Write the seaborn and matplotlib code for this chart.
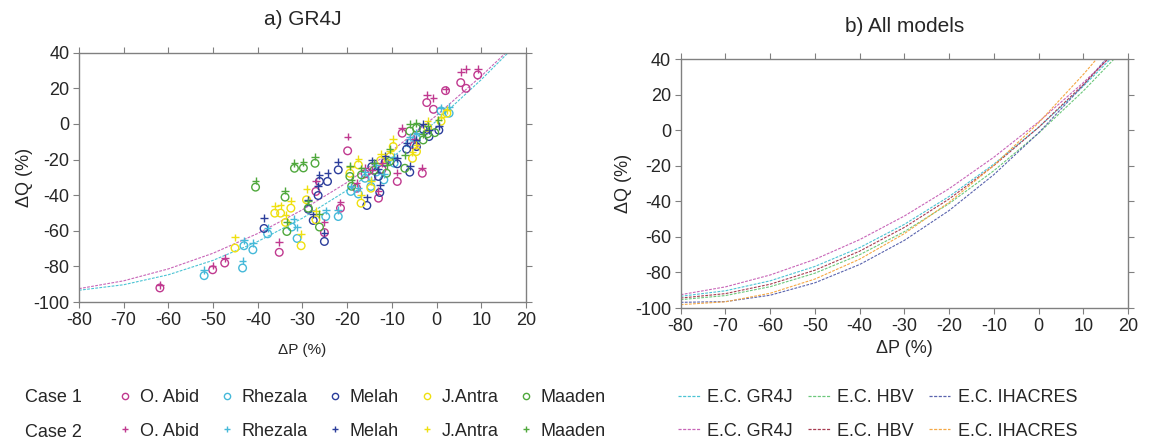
import matplotlib.pyplot as plt
from matplotlib.lines import Line2D
import numpy as np
import pandas as pd
import seaborn as sns

# stations and colours
stations = ["O. Abid", "Rhezala", "Melah", "J.Antra", "Maaden"]
station_colors = ["#c0398f", "#45b9d9", "#2b3d9b", "#efe010", "#4fa83c"]

# panel a points, case 1 (o) and case 2 (+)
abid_x1 = [-61.9, -50.1, -47.4, -35.2, -27.0, -25.1, -21.5, -19.9, -17.9, -13.0, -14.5, -12.2,
           -8.8, -3.2, -7.7, -2.2, -0.7, 2.0, 5.4, 6.6, 9.2, -16.0, -5.0]
abid_y1 = [-92.1, -81.9, -78.1, -72.1, -37.9, -61.0, -47.3, -15.1, -36.1, -41.7, -30.0, -25.5,
           -32.3, -27.7, -5.2, 12.0, 8.2, 18.7, 23.2, 20.0, 27.5, -28.0, -12.0]
abid_x2 = [-61.9, -50.1, -47.4, -35.2, -27.0, -25.1, -21.5, -19.9, -17.9, -13.0, -14.5, -12.2,
           -8.8, -3.2, -7.7, -2.2, -0.7, 2.0, 5.4, 6.6, 9.2, -16.0, -5.0]
abid_y2 = [-90.3, -79.6, -75.3, -66.4, -32.3, -55.3, -44.1, -7.1, -33.0, -37.5, -26.0, -22.0,
           -27.3, -24.5, -2.4, 16.3, 14.4, 19.4, 29.0, 30.8, 30.7, -24.5, -8.5]

rhez_x1 = [-52.0, -43.4, -43.1, -41.1, -37.8, -32.4, -31.2, -24.8, -22.0, -19.2, -17.5, -14.7,
           -11.8, -6.0, 1.0, 2.8, -13.5, -16.0, -4.5, -9.5]
rhez_y1 = [-85.2, -80.9, -68.4, -70.7, -61.7, -57.9, -64.3, -52.0, -52.0, -37.9, -39.3, -35.1,
           -31.4, -10.8, 7.3, 6.0, -27.0, -30.5, -8.0, -22.0]
rhez_x2 = [-52.0, -43.4, -43.1, -41.1, -37.8, -32.0, -31.2, -24.8, -22.0, -19.2, -17.5, -14.7,
           -11.8, -6.0, 1.0, 2.8, -13.5, -16.0, -4.5, -9.5]
rhez_y2 = [-81.9, -76.8, -65.4, -66.9, -58.5, -53.3, -58.1, -48.6, -48.2, -35.1, -36.0, -31.5,
           -28.0, -7.5, 9.0, 9.7, -23.0, -27.0, -5.0, -18.5]

melah_x1 = [-38.6, -26.5, -26.2, -24.4, -27.6, -25.1, -22.0, -15.6, -12.7, -8.8, -6.0, -6.7,
            -1.7, -4.5, -13.0, -28.7, -14.5, -11.5, -3.0, 0.5]
melah_y1 = [-58.7, -40.2, -32.3, -32.3, -54.2, -66.0, -25.8, -45.8, -38.5, -22.4, -27.1, -14.2,
            -7.1, -12.7, -29.5, -47.9, -24.0, -21.5, -3.0, -3.5]
melah_x2 = [-38.6, -26.5, -26.2, -24.4, -27.6, -25.1, -22.0, -15.6, -12.7, -8.8, -6.0, -6.7,
            -1.7, -4.5, -13.0, -28.7, -14.5, -11.5, -3.0, 0.5]
melah_y2 = [-52.9, -34.8, -28.6, -27.7, -50.5, -61.0, -21.1, -41.3, -34.2, -19.0, -23.6, -10.5,
            -3.5, -9.0, -25.5, -42.6, -20.5, -18.0, 0.0, -1.0]

antra_x1 = [-45.1, -36.2, -34.9, -33.8, -32.6, -30.3, -29.1, -27.0, -19.4, -16.9, -14.7, -10.4,
            -9.7, -5.4, -4.5, 2.3, -17.5, -12.5, -2.0, 1.0]
antra_y1 = [-69.7, -50.1, -50.1, -55.3, -47.3, -68.4, -42.6, -53.8, -27.7, -44.5, -36.1, -18.3,
            -12.7, -19.3, -15.5, 6.0, -23.0, -20.5, -2.0, 1.5]
antra_x2 = [-45.1, -36.2, -34.9, -33.8, -32.6, -30.3, -29.1, -27.0, -19.4, -16.9, -14.7, -10.4,
            -9.7, -5.4, -4.5, 2.3, -17.5, -12.5, -2.0, 1.0]
antra_y2 = [-63.7, -46.0, -45.8, -51.0, -43.0, -61.9, -36.4, -49.0, -24.0, -39.8, -32.0, -15.0,
            -8.6, -16.0, -12.0, 7.9, -19.5, -17.0, 1.5, 4.0]

maaden_x1 = [-40.5, -31.8, -29.8, -27.2, -33.9, -33.5, -28.7, -26.2, -19.4, -16.8, -11.2, -7.1,
             -3.0, -0.4, -4.5, -14.0, -19.0, -10.5, -2.0, -6.0]
maaden_y1 = [-35.5, -24.9, -24.7, -22.1, -41.1, -60.4, -47.3, -57.9, -29.5, -28.6, -27.7, -24.9,
             -9.0, -4.9, -2.4, -26.0, -35.0, -21.0, -5.5, -4.0]
maaden_x2 = [-40.5, -31.8, -29.8, -27.2, -33.9, -33.5, -28.7, -26.2, -19.4, -16.8, -11.2, -7.1,
             -3.0, 0.4, -4.5, -14.0, -19.0, -10.5, -2.0, -6.0]
maaden_y2 = [-31.8, -22.1, -21.5, -18.3, -37.4, -54.8, -43.5, -50.5, -23.6, -25.0, -23.0, -17.4,
             -5.5, 2.2, 0.5, -22.0, -31.5, -14.0, -1.0, 0.0]

# elasticity curves (read at every 10 % of dP, last point where they leave the top)
ec_names = ["E.C. GR4J", "E.C. HBV", "E.C. IHACRES"]
ec1_colors = ["#4cc4d4", "#6cc87c", "#5a64ae"]
ec2_colors = ["#c866b8", "#a83c52", "#f5a845"]

gr4j1_x = [-80, -70, -60, -50, -40, -30, -20, -10, 0, 10, 16.0]
gr4j1_y = [-93.4, -90.3, -84.7, -76.6, -66.0, -52.9, -37.2, -19.0, 1.7, 24.9, 40]
hbv1_x = [-80, -70, -60, -50, -40, -30, -20, -10, 0, 10, 16.8]
hbv1_y = [-95.3, -93.0, -88.0, -80.4, -70.0, -57.0, -41.2, -22.7, -1.6, 22.2, 40]
ihacres1_x = [-80, -70, -60, -50, -40, -30, -20, -10, 0, 10, 15.0]
ihacres1_y = [-96.8, -96.4, -92.8, -85.8, -75.5, -61.9, -45.1, -24.9, -1.4, 25.4, 40]
gr4j2_x = [-80, -70, -60, -50, -40, -30, -20, -10, 0, 10, 15.5]
gr4j2_y = [-92.5, -88.1, -81.4, -72.6, -61.5, -48.2, -32.8, -15.1, 4.8, 26.9, 40]
hbv2_x = [-80, -70, -60, -50, -40, -30, -20, -10, 0, 10, 15.4]
hbv2_y = [-94.4, -91.9, -86.6, -78.7, -68.0, -54.6, -38.6, -19.8, 1.7, 25.8, 40]
ihacres2_x = [-80, -70, -60, -50, -40, -30, -20, -10, 0, 10, 12.9]
ihacres2_y = [-98.1, -96.5, -91.7, -83.7, -72.5, -58.1, -40.5, -19.7, 4.3, 31.5, 40]

x_ticks = list(range(-80, 21, 10))
y_ticks = list(range(-100, 41, 20))

sns.set_style("white")
plt.rcParams['font.family'] = ['Liberation Sans', 'DejaVu Sans']
plt.rcParams['axes.unicode_minus'] = False

pts1 = [(abid_x1, abid_y1), (rhez_x1, rhez_y1), (melah_x1, melah_y1), (antra_x1, antra_y1), (maaden_x1, maaden_y1)]
pts2 = [(abid_x2, abid_y2), (rhez_x2, rhez_y2), (melah_x2, melah_y2), (antra_x2, antra_y2), (maaden_x2, maaden_y2)]
rows = []
for case, pts in [("Case 1", pts1), ("Case 2", pts2)]:
    for st, (xs, ys) in zip(stations, pts):
        for x, y in zip(xs, ys):
            rows.append({'dP': x, 'dQ': y, 'station': st, 'case': case})
df = pd.DataFrame(rows)
palette = dict(zip(stations, station_colors))

curves1 = [(gr4j1_x, gr4j1_y), (hbv1_x, hbv1_y), (ihacres1_x, ihacres1_y)]
curves2 = [(gr4j2_x, gr4j2_y), (hbv2_x, hbv2_y), (ihacres2_x, ihacres2_y)]
dash = (0, (2.5, 1.2))

fig = plt.figure(figsize=(11.53, 4.44), dpi=100)
ax1 = fig.add_axes([0.0685, 0.3198, 0.3877, 0.5615])
ax2 = fig.add_axes([0.5904, 0.3063, 0.3880, 0.5601])

# panel a
for case, marker in [("Case 1", "o"), ("Case 2", "+")]:
    sub = df[df['case'] == case]
    sns.scatterplot(data=sub, x='dP', y='dQ', hue='station', palette=palette, marker=marker,
                    s=30, linewidth=1.0, legend=False, ax=ax1, zorder=3)
    if marker == "o":
        coll = ax1.collections[-1]
        coll.set_edgecolors(coll.get_facecolors())
        coll.set_facecolors('none')

for (xs, ys), col in [(curves1[0], ec1_colors[0]), (curves2[0], ec2_colors[0])]:
    sns.lineplot(x=xs, y=ys, color=col, linewidth=0.8, linestyle=dash, sort=False, ax=ax1, zorder=2)

# panel b
for (xs, ys), col in list(zip(curves1, ec1_colors)) + list(zip(curves2, ec2_colors)):
    sns.lineplot(x=xs, y=ys, color=col, linewidth=0.8, linestyle=dash, sort=False, ax=ax2)

for ax in (ax1, ax2):
    ax.set_xlim(-80, 20)
    ax.set_ylim(-100, 40)
    ax.set_xticks(x_ticks)
    ax.set_yticks(y_ticks)
    ax.xaxis.set_ticks_position('both')
    ax.yaxis.set_ticks_position('both')
    ax.tick_params(direction='out', length=4, width=0.8, color='#808080',
                   labeltop=False, labelright=False, labelsize=13, pad=3)
    for sp in ax.spines.values():
        sp.set_color('#808080')
        sp.set_linewidth(1.0)
        sp.set_visible(True)

ax1.set_title("a) GR4J", fontsize=15, pad=20)
ax2.set_title("b) All models", fontsize=15, pad=20)
ax1.set_xlabel("\u0394P (%)", fontsize=11, labelpad=10)
ax1.set_ylabel("\u0394Q (%)", fontsize=13, labelpad=0)
ax2.set_xlabel("\u0394P (%)", fontsize=13, labelpad=4)
ax2.set_ylabel("\u0394Q (%)", fontsize=13, labelpad=2)

# legend: stations block and curves block
st_handles, st_labels = [], []
for st, col in zip(stations, station_colors):
    st_handles.append(Line2D([], [], ls='none', marker='o', mfc='none', mec=col, ms=4.5, mew=1.0))
    st_labels.append(st)
    st_handles.append(Line2D([], [], ls='none', marker='+', color=col, ms=5, mew=1.0))
    st_labels.append(st)
ec_handles, ec_labels = [], []
for name, c1, c2 in zip(ec_names, ec1_colors, ec2_colors):
    ec_handles.append(Line2D([], [], color=c1, lw=0.9, ls=dash))
    ec_labels.append(name)
    ec_handles.append(Line2D([], [], color=c2, lw=0.9, ls=dash))
    ec_labels.append(name)

leg_y = (444 - 414.5) / 444
fig.legend(st_handles, st_labels, ncol=5, loc='center left', bbox_to_anchor=(118 / 1153, leg_y),
           frameon=False, fontsize=13, handlelength=0.8, handletextpad=0.4,
           columnspacing=1.15, labelspacing=0.9, borderpad=0, borderaxespad=0)
fig.legend(ec_handles, ec_labels, ncol=3, loc='center left', bbox_to_anchor=(678 / 1153, leg_y),
           frameon=False, fontsize=13, handlelength=1.2, handletextpad=0.4,
           columnspacing=0.85, labelspacing=0.9, borderpad=0, borderaxespad=0)
fig.text(0.022, (444 - 397) / 444, "Case 1", fontsize=13, va='center', ha='left')
fig.text(0.022, (444 - 432) / 444, "Case 2", fontsize=13, va='center', ha='left')

fig.savefig("out.png", dpi=100)
